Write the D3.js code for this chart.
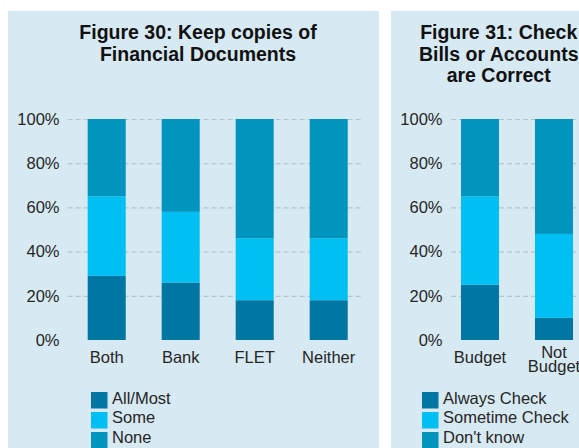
<!DOCTYPE html>
<html>
<head>
<meta charset="utf-8">
<script src="https://d3js.org/d3.v7.min.js"></script>
<style>
    body { margin: 0; background: #fff; }
    svg { display: block; font-family: "Liberation Sans", Arial, Helvetica, sans-serif; }
    .grid line { stroke: #b9c4cb; stroke-width: 1.2; stroke-dasharray: 5, 3; }
    .grid path, .yaxis path { display: none; }
    .yaxis text, .cat-label, .legend text { font-size: 16.5px; fill: #262626; }
    .title { font-size: 19.5px; font-weight: bold; fill: #111; }
</style>
</head>
<body>
<script>
// shared axis ticks and colours
var yTicks = [0, 20, 40, 60, 80, 100];
var colors = ["#0077a2", "#00bff2", "#0094be"];

// Figure 30
var fig30Title = ["Figure 30: Keep copies of", "Financial Documents"];
var fig30Categories = ["Both", "Bank", "FLET", "Neither"];
var fig30Series = ["All/Most", "Some", "None"];
var fig30AllMost = [29, 26, 18, 18];
var fig30Some = [36, 32, 28, 28];
var fig30None = [35, 42, 54, 54];

// Figure 31
var fig31Title = ["Figure 31: Check", "Bills or Accounts", "are Correct"];
var fig31Categories = ["Budget", "Not Budget"];
var fig31Series = ["Always Check", "Sometime Check", "Don't know"];
var fig31Always = [25, 10];
var fig31Sometime = [40, 38];
var fig31DontKnow = [35, 52];

var width = 579;
var height = 448;

var svg = d3.select("body").append("svg")
    .attr("width", width)
    .attr("height", height);

function drawPanel(p) {
    var g = svg.append("g");

    // panel background
    g.append("rect")
        .attr("x", p.left)
        .attr("y", 11)
        .attr("width", p.width)
        .attr("height", height - 11)
        .attr("fill", "#d7e9f3");

    // title
    var title = g.append("text")
        .attr("class", "title")
        .attr("text-anchor", "middle");
    p.title.forEach(function (line, i) {
        title.append("tspan")
            .attr("x", p.titleX)
            .attr("y", 39 + i * 21.5)
            .text(line);
    });

    // rows for the stack
    var rows = p.categories.map(function (c, i) {
        var r = { category: c };
        p.series.forEach(function (s, j) { r[s] = p.values[j][i]; });
        return r;
    });
    var stacked = d3.stack().keys(p.series)(rows);

    var x = d3.scaleBand()
        .domain(p.categories)
        .range(p.xRange)
        .paddingInner(0.486)
        .paddingOuter(0.243);

    var y = d3.scaleLinear()
        .domain([0, 100])
        .range([340, 119]);

    // gridlines, none at 0%
    g.append("g")
        .attr("class", "grid")
        .attr("transform", "translate(" + p.gridX[0] + ",0)")
        .call(d3.axisRight(y)
            .tickValues(yTicks.filter(function (t) { return t > 0; }))
            .tickSize(p.gridX[1] - p.gridX[0])
            .tickFormat(""));

    // y labels
    var yAxis = g.append("g")
        .attr("class", "yaxis")
        .attr("transform", "translate(" + p.labelRight + ",0)")
        .call(d3.axisLeft(y)
            .tickValues(yTicks)
            .tickSize(0)
            .tickPadding(0)
            .tickFormat(function (d) { return d + "%"; }));
    yAxis.attr("font-size", null).attr("font-family", null);
    yAxis.selectAll("line").remove();

    // bars
    g.selectAll(".series")
        .data(stacked)
        .enter()
        .append("g")
        .attr("fill", function (d, i) { return colors[i]; })
        .selectAll("rect")
        .data(function (d) { return d; })
        .enter()
        .append("rect")
        .attr("x", function (d) { return x(d.data.category); })
        .attr("width", x.bandwidth())
        .attr("y", function (d) { return y(d[1]); })
        .attr("height", function (d) { return y(d[0]) - y(d[1]); });

    // category labels, wrapped when wider than a band step
    p.categories.forEach(function (c) {
        var cx = x(c) + x.bandwidth() / 2;
        var t = g.append("text")
            .attr("class", "cat-label")
            .attr("text-anchor", "middle")
            .attr("x", cx)
            .attr("y", 362.5)
            .text(c);
        if (t.node().getComputedTextLength() > x.step()) {
            var words = c.split(" ");
            t.text(null);
            words.forEach(function (w, i) {
                t.append("tspan")
                    .attr("x", cx)
                    .attr("y", 357.5 + i * 14)
                    .text(w);
            });
        }
    });

    // legend
    var legend = g.append("g").attr("class", "legend");
    p.series.forEach(function (s, i) {
        legend.append("rect")
            .attr("x", p.legendX)
            .attr("y", 392 + i * 20)
            .attr("width", 16.5)
            .attr("height", 16.5)
            .attr("fill", colors[i]);
        legend.append("text")
            .attr("x", p.legendX + 21)
            .attr("y", 403.5 + i * 19.5)
            .text(s);
    });
}

drawPanel({
    left: 8, width: 371, titleX: 198,
    title: fig30Title,
    categories: fig30Categories,
    series: fig30Series,
    values: [fig30AllMost, fig30Some, fig30None],
    xRange: [69.7, 365.7],
    gridX: [67.7, 363],
    labelRight: 59.5,
    legendX: 91
});

drawPanel({
    left: 391, width: 200, titleX: 498.7,
    title: fig31Title,
    categories: fig31Categories,
    series: fig31Series,
    values: [fig31Always, fig31Sometime, fig31DontKnow],
    xRange: [443, 591],
    gridX: [451, 600],
    labelRight: 442.5,
    legendX: 422
});
</script>
</body>
</html>
